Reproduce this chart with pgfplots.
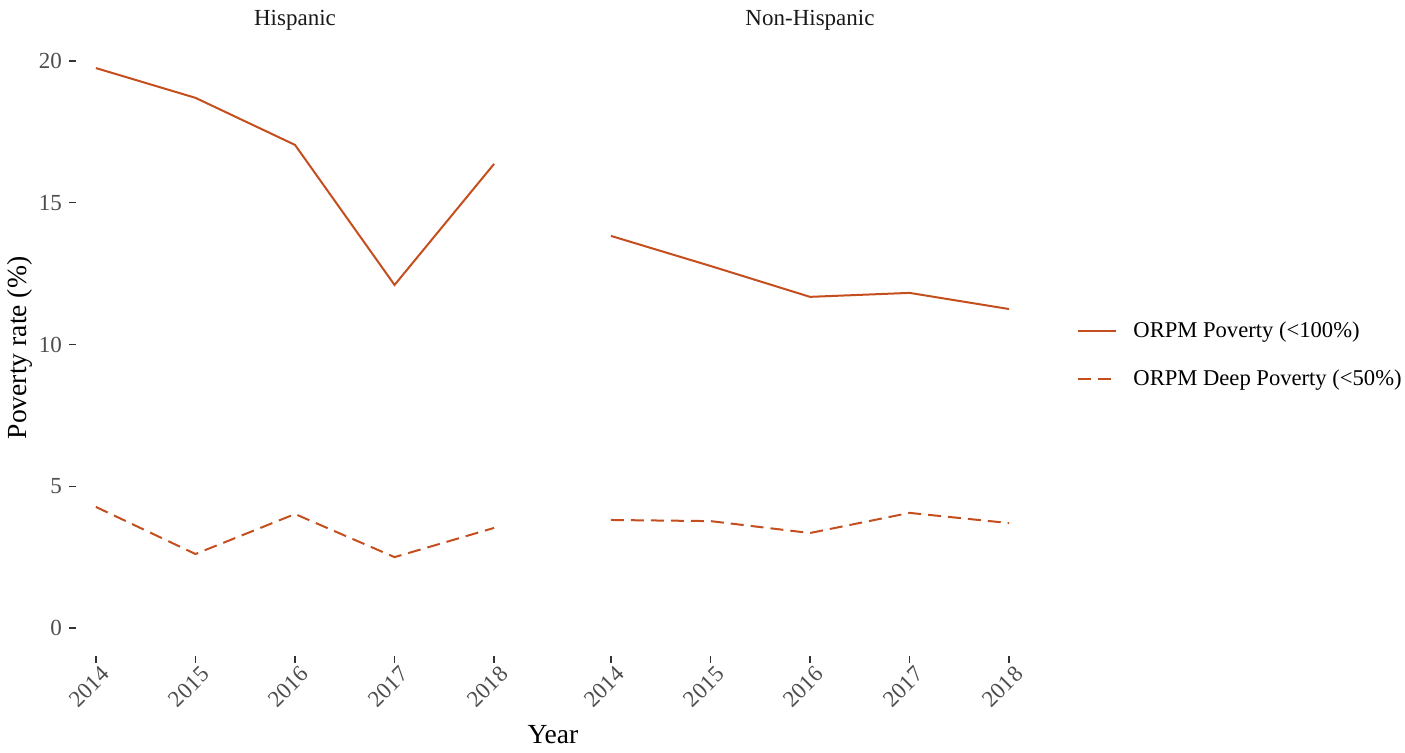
\documentclass[border=0pt]{standalone}
\usepackage{fontspec}
\setmainfont{Liberation Serif}
\usepackage{pgfplots}
\pgfplotsset{compat=1.18}
\definecolor{orpm}{RGB}{196,78,30}
\definecolor{ticklab}{RGB}{77,77,77}
\definecolor{tickcol}{RGB}{51,51,51}
\pgfplotsset{
  every axis title/.style={at={(axis description cs:0.5,1.0325)}, anchor=center, font=\fontsize{11.5}{12}\selectfont, text=black!90},
  facet/.style={
    scale only axis, width=219pt, height=308pt,
    xmin=2013.8, xmax=2018.2, ymin=-0.988, ymax=20.74,
    axis lines*=left, axis line style={draw=none},
    xtick={2014,2015,2016,2017,2018},
    tick align=outside, major tick length=3.5pt,
    tick style={tickcol, line width=0.7pt},
    /pgf/number format/1000 sep={},
    /pgf/number format/assume math mode=true,
    ticklabel style={font=\fontsize{11.5}{12}\selectfont, text=ticklab},
    xticklabel style={rotate=45, anchor=north east, inner sep=1pt, xshift=2pt, yshift=-1pt},
    clip=false,
  },
  pov/.style={orpm, line width=1pt},
  deep/.style={orpm, line width=1pt, dash pattern=on 6.5pt off 3.5pt},
}
\begin{document}
\begin{tikzpicture}
\useasboundingbox (0,0) rectangle (702.5pt,376pt);
\begin{axis}[facet, at={(38pt,48pt)}, anchor=south west,
  title={Hispanic},
  ytick={0,5,10,15,20},
  ylabel={Poverty rate (\%)},
  ylabel style={at={(axis description cs:-0.128,0.5)}, anchor=center, rotate=0, font=\fontsize{13.8}{14}\selectfont},
  xlabel={Year},
  xlabel style={at={(axis description cs:1.089,-0.128)}, anchor=center, font=\fontsize{13.8}{14}\selectfont},
]
\addplot[pov] coordinates {(2014,19.75) (2015,18.70) (2016,17.04) (2017,12.10) (2018,16.37)};
\addplot[deep] coordinates {(2014,4.27) (2015,2.61) (2016,4.02) (2017,2.50) (2018,3.53)};
\end{axis}
\begin{axis}[facet, at={(295.5pt,48pt)}, anchor=south west,
  title={Non-Hispanic},
  ytick=\empty,
  legend style={draw=none, fill=none, at={(axis description cs:1.096,0.4886)}, anchor=west,
    font=\fontsize{11.3}{12}\selectfont, row sep=11pt, column sep=6pt},
  legend cell align=left,
  legend image code/.code={\draw[#1] (0pt,0pt) -- (19pt,0pt);},
]
\addplot[pov] coordinates {(2014,13.83) (2015,12.77) (2016,11.68) (2017,11.82) (2018,11.25)};
\addlegendentry{ORPM Poverty (<100\%)}
\addplot[deep] coordinates {(2014,3.81) (2015,3.77) (2016,3.35) (2017,4.06) (2018,3.70)};
\addlegendentry{ORPM Deep Poverty (<50\%)}
\end{axis}
\end{tikzpicture}
\end{document}
